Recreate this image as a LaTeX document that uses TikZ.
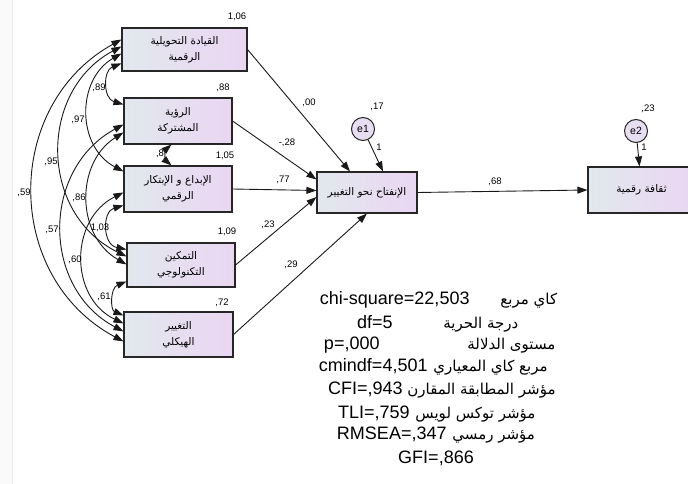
\documentclass[tikz,border=0pt]{standalone}
\usepackage{fontspec}
\setmainfont{Liberation Sans}
\newfontfamily\arabicfont[Script=Arabic]{DejaVu Sans}
\TeXXeTstate=1
\usetikzlibrary{arrows.meta}

\newcommand{\artxt}[1]{{\arabicfont\beginR #1\endR}}

\definecolor{boxleft}{RGB}{226,232,238}
\definecolor{boxright}{RGB}{234,214,242}
\definecolor{errfill}{RGB}{232,222,242}

\begin{document}
\begin{tikzpicture}[x=1pt, y=-1pt, line width=0.9pt, >={Triangle[length=10pt,width=7pt]},
   obsbox/.style={draw=black!85, line width=1.1pt, left color=boxleft, right color=boxright,
                  align=center, inner sep=1pt, font=\fontsize{10.5}{16}\selectfont},
   errvar/.style={circle, draw=black!85, line width=1pt, fill=errfill, minimum size=23pt,
                  inner sep=0pt, font=\fontsize{10.5}{12}\selectfont},
   est/.style={inner sep=0pt, font=\fontsize{9.5}{11}\selectfont},
   fitline/.style={inner sep=0pt, anchor=base east, font=\fontsize{18}{20}\selectfont},
   fitar/.style={inner sep=0pt, anchor=base west, font=\fontsize{15}{18}\selectfont},
   reg/.style={->, black!90},
   cov/.style={<->, black!90}]

   \useasboundingbox (0,0) rectangle (688,484);
   \fill[gray!4] (0,0) rectangle (12,484);
   \draw[gray!15, line width=0.6pt] (12.5,0) -- (12.5,484);

   % exogenous boxes
   \node[obsbox, minimum width=125pt, minimum height=43pt] (lead) at (184.5,49.5)
        {\artxt{القيادة التحويلية}\\ \artxt{الرقمية}};
   \node[obsbox, minimum width=108pt, minimum height=46pt] (vision) at (178,121)
        {\artxt{الرؤية}\\ \artxt{المشتركة}};
   \node[obsbox, minimum width=108pt, minimum height=46pt] (innov) at (178,189)
        {\artxt{الإبداع و الإبتكار}\\ \artxt{الرقمي}};
   \node[obsbox, minimum width=108pt, minimum height=44pt] (empower) at (181,265)
        {\artxt{التمكين}\\ \artxt{التكنولوجي}};
   \node[obsbox, minimum width=109pt, minimum height=45pt] (struct) at (178.5,334.5)
        {\artxt{التغيير}\\ \artxt{الهيكلي}};

   % endogenous boxes and errors
   \node[obsbox, minimum width=100pt, minimum height=41pt] (open) at (367,192.5)
        {\artxt{الإنفتاح نحو التغيير}};
   \node[obsbox, minimum width=107pt, minimum height=46pt] (culture) at (641.5,190)
        {\artxt{ثقافة رقمية}};
   \node[errvar] (e1) at (363,129) {e1};
   \node[errvar] (e2) at (636,131) {e2};

   % variances
   \node[est] (v1) at (237,17) {1,06};
   \node[est] (v2) at (223,88) {,88};
   \node[est] (v3) at (225,156) {1,05};
   \node[est] (v4) at (227,232) {1,09};
   \node[est] (v5) at (222,303) {,72};
   \node[est] (v6) at (377,107) {,17};
   \node[est] (v7) at (648,109) {,23};

   % regression paths
   \draw[reg] (lead.east) -- ([xshift=-17pt]open.north);
   \draw[reg] (vision.east) -- ([yshift=-8pt]open.north west);
   \draw[reg] (innov.east) -- ([yshift=2pt]open.west);
   \draw[reg] (empower.east) -- ([yshift=-4.5pt]open.west);
   \draw[reg] (struct.east) -- (open.south);
   \draw[reg] (e1) -- ([xshift=16pt]open.north);
   \draw[reg] (open.east) -- (culture.west);
   \draw[reg] (e2) -- ([xshift=-2pt]culture.north);
   \node[est] (w1) at (309,103) {,00};
   \node[est] (w2) at (287,143) {-,28};
   \node[est] (w3) at (283,180) {,77};
   \node[est] (w4) at (268,225) {,23};
   \node[est] (w5) at (291,265) {,29};
   \node[est] (w6) at (379,147) {1};
   \node[est] (w7) at (644,147) {1};
   \node[est] (w8) at (495,182) {,68};

   % covariances
   \node[est] (c23) at (160,154) {,8};
   \draw[cov] ([yshift=-12pt]lead.north west) .. controls (3,105) and (3,277) .. ([yshift=-30pt]struct.north west);
   \draw[cov] ([yshift=-19pt]lead.north west) .. controls (38.5,90.6) and (38.5,213.4) .. ([yshift=-14pt]empower.north west);
   \draw[cov] ([yshift=-26pt]lead.north west) .. controls (76.3,79.5) and (76.3,146.5) .. ([yshift=-6pt]innov.north west);
   \draw[cov] ([yshift=-36pt]lead.north west) .. controls (103,70.4) and (103,98.6) .. ([yshift=-7pt]vision.north west);
   \draw[cov] ([yshift=-27pt]vision.north west) .. controls (41.3,169.2) and (41.3,287.8) .. ([yshift=-20pt]struct.north west);
   \draw[cov] ([yshift=-35pt]vision.north west) .. controls (75.5,162.8) and (75.5,235.2) .. ([yshift=-22pt]empower.north west);
   \draw[cov] ([yshift=-27pt]innov.north west) .. controls (69.3,219.6) and (69.3,297.4) .. ([yshift=-12pt]struct.north west);
   \draw[cov] ([yshift=-40pt]innov.north west) .. controls (102.2,211.4) and (102.2,244.6) .. ([yshift=-7pt]empower.north west);
   \draw[cov] ([yshift=-39pt]empower.north west) .. controls (110.2,288.1) and (110.2,309.9) .. ([yshift=-4pt]struct.north west);
   \draw[cov] ([xshift=48pt]vision.south west) .. controls (165.3,149.8) and (165.3,160.2) .. ([xshift=48pt]innov.north west);
   \node[est] (c15) at (24,193) {,59};
   \node[est] (c14) at (51,162) {,95};
   \node[est] (c13) at (78,120) {,97};
   \node[est] (c12) at (99,88) {,89};
   \node[est] (c25) at (52,230) {,57};
   \node[est] (c24) at (79,198) {,86};
   \node[est] (c35) at (75,260) {,60};
   \node[est] (c34) at (100,228) {1,03};
   \node[est] (c45) at (104,297) {,61};

   % fit indices
   \node[fitline] (chi) at (470,304) {chi-square=22,503};
   \node[fitar] (chiar) at (500,304) {\artxt{كاي مربع}};
   \node[fitline] (df) at (393,328) {df=5};
   \node[fitar] (dfar) at (443,328) {\artxt{درجة الحرية}};
   \node[fitline] (pval) at (380,349) {p=,000};
   \node[fitar] (pvalar) at (467,349) {\artxt{مستوى الدلالة}};
   \node[fitline] (cmin) at (428,371) {cmindf=4,501};
   \node[fitar] (cminar) at (433,371) {\artxt{مربع كاي المعياري}};
   \node[fitline] (cfi) at (403,394) {CFI=,943};
   \node[fitar] (cfiar) at (407,394) {\artxt{مؤشر المطابقة المقارن}};
   \node[fitline] (tli) at (410,418) {TLI=,759};
   \node[fitar] (tliar) at (415,418) {\artxt{مؤشر توكس لويس}};
   \node[fitline] (rmsea) at (447,439) {RMSEA=,347};
   \node[fitar] (rmseaar) at (452,439) {\artxt{مؤشر رمسي}};
   \node[fitline, anchor=base] (gfi) at (436,463) {GFI=,866};

\end{tikzpicture}
\end{document}
